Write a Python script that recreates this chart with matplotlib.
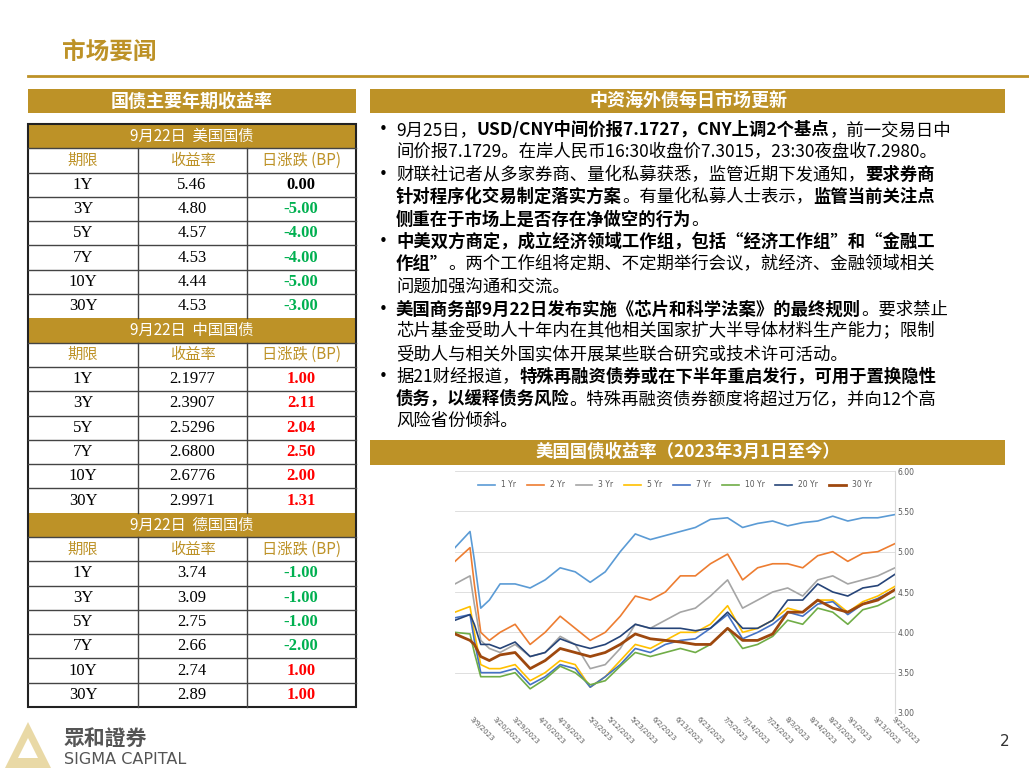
import numpy as np
import pandas as pd
import matplotlib
matplotlib.use("Agg")
import matplotlib.pyplot as plt
from matplotlib.patches import Rectangle, Polygon

W, H = 1029, 770
GOLD = "#BD9227"
CJK = "Noto Sans CJK SC"
SERIF = "Liberation Serif"

# ---- table data ----
sections = ["9月22日  美国国债", "9月22日  中国国债", "9月22日  德国国债"]
tenors = ["1Y", "3Y", "5Y", "7Y", "10Y", "30Y"]
us_yield = ["5.46", "4.80", "4.57", "4.53", "4.44", "4.53"]
us_chg = ["0.00", "-5.00", "-4.00", "-4.00", "-5.00", "-3.00"]
cn_yield = ["2.1977", "2.3907", "2.5296", "2.6800", "2.6776", "2.9971"]
cn_chg = ["1.00", "2.11", "2.04", "2.50", "2.00", "1.31"]
de_yield = ["3.74", "3.09", "2.75", "2.66", "2.74", "2.89"]
de_chg = ["-1.00", "-1.00", "-1.00", "-2.00", "1.00", "1.00"]

# ---- news lines: (text, bold) segments ----
news = [
    (True, [("9月25日，", 0), ("USD/CNY中间价报7.1727，CNY上调2个基点", 1), ("，前一交易日中", 0)]),
    (False, [("间价报7.1729。在岸人民币16:30收盘价7.3015，23:30夜盘收7.2980。", 0)]),
    (True, [("财联社记者从多家券商、量化私募获悉，监管近期下发通知，", 0), ("要求券商", 1)]),
    (False, [("针对程序化交易制定落实方案", 1), ("。有量化私募人士表示，", 0), ("监管当前关注点", 1)]),
    (False, [("侧重在于市场上是否存在净做空的行为", 1), ("。", 0)]),
    (True, [("中美双方商定，成立经济领域工作组，包括“经济工作组”和“金融工", 1)]),
    (False, [("作组”", 1), ("。两个工作组将定期、不定期举行会议，就经济、金融领域相关", 0)]),
    (False, [("问题加强沟通和交流。", 0)]),
    (True, [("美国商务部9月22日发布实施《芯片和科学法案》的最终规则", 1), ("。要求禁止", 0)]),
    (False, [("芯片基金受助人十年内在其他相关国家扩大半导体材料生产能力；限制", 0)]),
    (False, [("受助人与相关外国实体开展某些联合研究或技术许可活动。", 0)]),
    (True, [("据21财经报道，", 0), ("特殊再融资债券或在下半年重启发行，可用于置换隐性", 1)]),
    (False, [("债务，以缓释债务风险", 1), ("。特殊再融资债券额度将超过万亿，并向12个高", 0)]),
    (False, [("风险省份倾斜。", 0)]),
]

# ---- US Treasury yields (weekly-ish readings) ----
dates = pd.to_datetime([
    "2023-03-01", "2023-03-08", "2023-03-10", "2023-03-13", "2023-03-17", "2023-03-22",
    "2023-03-29", "2023-04-05", "2023-04-12", "2023-04-19", "2023-04-26", "2023-05-03",
    "2023-05-10", "2023-05-17", "2023-05-24", "2023-05-31", "2023-06-07", "2023-06-14",
    "2023-06-21", "2023-06-28", "2023-07-06", "2023-07-13", "2023-07-20", "2023-07-27",
    "2023-08-03", "2023-08-10", "2023-08-17", "2023-08-24", "2023-08-31", "2023-09-07",
    "2023-09-14", "2023-09-22"])
y1 = [5.05, 5.25, 4.90, 4.30, 4.40, 4.60, 4.60, 4.55, 4.65, 4.80, 4.75, 4.62, 4.75, 5.00, 5.22, 5.15,
      5.20, 5.25, 5.30, 5.40, 5.42, 5.30, 5.35, 5.38, 5.32, 5.36, 5.38, 5.44, 5.38, 5.42, 5.42, 5.46]
y2 = [4.88, 5.05, 4.60, 4.00, 3.90, 4.00, 4.10, 3.85, 4.00, 4.20, 4.05, 3.90, 4.00, 4.20, 4.45, 4.40,
      4.50, 4.70, 4.70, 4.85, 4.97, 4.65, 4.80, 4.85, 4.85, 4.80, 4.95, 5.00, 4.88, 4.98, 5.00, 5.10]
y3 = [4.60, 4.70, 4.35, 3.90, 3.80, 3.75, 3.85, 3.70, 3.75, 3.95, 3.85, 3.55, 3.60, 3.80, 4.10, 4.05,
      4.15, 4.25, 4.30, 4.45, 4.65, 4.30, 4.40, 4.50, 4.55, 4.45, 4.65, 4.70, 4.60, 4.65, 4.70, 4.80]
y5 = [4.25, 4.32, 4.00, 3.60, 3.55, 3.55, 3.60, 3.40, 3.50, 3.65, 3.60, 3.32, 3.45, 3.65, 3.85, 3.80,
      3.90, 4.00, 4.00, 4.10, 4.33, 4.00, 4.05, 4.15, 4.30, 4.25, 4.40, 4.40, 4.25, 4.38, 4.45, 4.57]
y7 = [4.18, 4.22, 3.90, 3.50, 3.50, 3.50, 3.55, 3.35, 3.45, 3.60, 3.55, 3.32, 3.45, 3.60, 3.80, 3.75,
      3.85, 3.90, 3.92, 4.05, 4.22, 3.92, 4.00, 4.10, 4.25, 4.20, 4.35, 4.38, 4.22, 4.35, 4.42, 4.53]
y10 = [4.00, 3.98, 3.75, 3.45, 3.45, 3.45, 3.50, 3.30, 3.42, 3.58, 3.50, 3.35, 3.40, 3.58, 3.75, 3.70,
       3.75, 3.80, 3.75, 3.85, 4.05, 3.80, 3.85, 3.95, 4.15, 4.10, 4.30, 4.25, 4.10, 4.28, 4.33, 4.44]
y20 = [4.15, 4.22, 4.10, 3.85, 3.85, 3.80, 3.88, 3.70, 3.75, 3.92, 3.85, 3.80, 3.85, 3.95, 4.10, 4.05,
       4.05, 4.05, 4.02, 4.05, 4.25, 4.05, 4.05, 4.15, 4.40, 4.40, 4.60, 4.50, 4.45, 4.55, 4.58, 4.72]
y30 = [3.98, 3.90, 3.85, 3.70, 3.65, 3.72, 3.75, 3.55, 3.65, 3.80, 3.75, 3.70, 3.75, 3.85, 3.98, 3.92,
       3.90, 3.88, 3.85, 3.85, 4.05, 3.90, 3.90, 3.98, 4.25, 4.25, 4.40, 4.30, 4.25, 4.35, 4.40, 4.53]
series = [("1 Yr", y1, "#5B9BD5", 1.2), ("2 Yr", y2, "#ED7D31", 1.2), ("3 Yr", y3, "#A5A5A5", 1.2),
          ("5 Yr", y5, "#FFC000", 1.2), ("7 Yr", y7, "#4472C4", 1.2), ("10 Yr", y10, "#70AD47", 1.2),
          ("20 Yr", y20, "#264478", 1.2), ("30 Yr", y30, "#9E480E", 2.0)]
tick_dates = ["3/9/2023", "3/20/2023", "3/29/2023", "4/10/2023", "4/19/2023", "5/3/2023", "5/12/2023",
              "5/23/2023", "6/2/2023", "6/13/2023", "6/23/2023", "7/5/2023", "7/14/2023", "7/25/2023",
              "8/3/2023", "8/14/2023", "8/23/2023", "9/1/2023", "9/13/2023", "9/22/2023"]

fig = plt.figure(figsize=(W / 100, H / 100), dpi=100)


def P(x, y):
    return x / W, 1 - y / H


def rect(x0, y0, x1, y1, fc, ec="none", lw=0):
    fig.patches.append(Rectangle(P(x0, y1), (x1 - x0) / W, (y1 - y0) / H, facecolor=fc,
                                 edgecolor=ec, linewidth=lw, transform=fig.transFigure))


def txt(x, y, s, **kw):
    kw.setdefault("ha", "center")
    kw.setdefault("va", "center")
    return fig.text(*P(x, y), s, **kw)


# title
txt(62, 52, "市场要闻", ha="left", fontsize=17, fontweight="bold", color=GOLD, family=CJK)
fig.add_artist(plt.Line2D([28 / W, 1.0], [1 - 76 / H] * 2, color=GOLD, lw=2, transform=fig.transFigure))

# left header
rect(28, 89, 356, 113, GOLD)
txt(192, 101, "国债主要年期收益率", fontsize=13, fontweight="bold", color="white", family=CJK)

# table
cols = [28, 138, 247, 356]
rh = (707 - 124) / 24
blocks = [(us_yield, us_chg), (cn_yield, cn_chg), (de_yield, de_chg)]
for b, (yl, ch) in enumerate(blocks):
    top = 124 + b * 8 * rh
    rect(28, top, 356, top + rh, GOLD)
    txt(192, top + rh / 2, sections[b], fontsize=11, color="white", family=CJK)
    hy = top + rh
    for i, h in enumerate(["期限", "收益率", "日涨跌 (BP)"]):
        txt((cols[i] + cols[i + 1]) / 2, hy + rh / 2, h, fontsize=11, color=GOLD, family=CJK)
    for r in range(6):
        yy = top + (r + 2) * rh
        cy = yy + rh / 2
        txt(83, cy, tenors[r], fontsize=12, family=SERIF)
        txt(192, cy, yl[r], fontsize=12, family=SERIF)
        v = float(ch[r])
        c = "black" if v == 0 else ("#FF0000" if v > 0 else "#00B050")
        txt(301, cy, ch[r], fontsize=12, family=SERIF, fontweight="bold", color=c)
    for r in range(1, 8):
        yy = top + r * rh
        fig.add_artist(plt.Line2D([28 / W, 356 / W], [1 - yy / H] * 2, color="#444444", lw=1,
                                  transform=fig.transFigure))
    for cx in cols[1:3]:
        fig.add_artist(plt.Line2D([cx / W] * 2, [1 - (top + rh) / H, 1 - (top + 8 * rh) / H],
                                  color="#444444", lw=1, transform=fig.transFigure))
rect(28, 124, 356, 707, "none", ec="#222222", lw=1.5)

# right header
rect(370, 89, 1005, 113, GOLD)
txt(688, 101, "中资海外债每日市场更新", fontsize=13, fontweight="bold", color="white", family=CJK)

# news text with mixed bold
renderer = fig.canvas.get_renderer()
for i, (bullet, segs) in enumerate(news):
    y = 130 + i * 22.4
    if bullet:
        txt(383, y, "•", fontsize=11)
    x = 396
    for s, b in segs:
        t = txt(x, y, s, ha="left", fontsize=12.5, family=CJK,
                fontweight="bold" if b else "normal", color="black")
        x += t.get_window_extent(renderer).width

# chart header
rect(370, 440, 1005, 465, GOLD)
txt(688, 452, "美国国债收益率（2023年3月1日至今）", fontsize=12.5, fontweight="bold", color="white", family=CJK)

ax = fig.add_axes([455 / W, 1 - 713 / H, (895 - 455) / W, (713 - 471) / H])
for name, vals, c, lw in series:
    ax.plot(dates, vals, color=c, lw=lw, label=name)
ax.set_ylim(3.0, 6.0)
ax.set_yticks(np.arange(3.0, 6.01, 0.5))
ax.set_yticklabels([f"{v:.2f}" for v in np.arange(3.0, 6.01, 0.5)], fontsize=5.5, color="#595959")
ax.yaxis.tick_right()
ax.grid(axis="y", color="#D9D9D9", lw=0.6)
ax.set_xlim(dates[0], dates[-1])
tk = pd.to_datetime(tick_dates, format="%m/%d/%Y")
ax.set_xticks(tk)
ax.set_xticklabels(tick_dates, rotation=-45, ha="left", rotation_mode="anchor", fontsize=5, color="#595959")
ax.tick_params(length=0, pad=2)
for s in ["top", "left", "bottom"]:
    ax.spines[s].set_visible(False)
ax.spines["right"].set_color("#D9D9D9")
ax.legend(loc="upper center", ncol=8, frameon=False, fontsize=5.5, handlelength=2.2,
          columnspacing=1.4, bbox_to_anchor=(0.5, 0.99), labelcolor="#595959")

# logo
fig.patches.append(Polygon([P(5, 768), P(28, 722), P(51, 768)], closed=True, facecolor="#E9D9A6",
                           transform=fig.transFigure))
fig.patches.append(Polygon([P(18, 758), P(28, 738), P(38, 758)], closed=True, facecolor="white",
                           transform=fig.transFigure))
txt(64, 739, "眾和證券", ha="left", fontsize=15, fontweight="bold", color="#555555", family=CJK)
txt(64, 760, "SIGMA CAPITAL", ha="left", fontsize=11.5, color="#555555", family="DejaVu Sans")
txt(1005, 741, "2", fontsize=11, color="#333333")

fig.savefig("out.png", dpi=100)
